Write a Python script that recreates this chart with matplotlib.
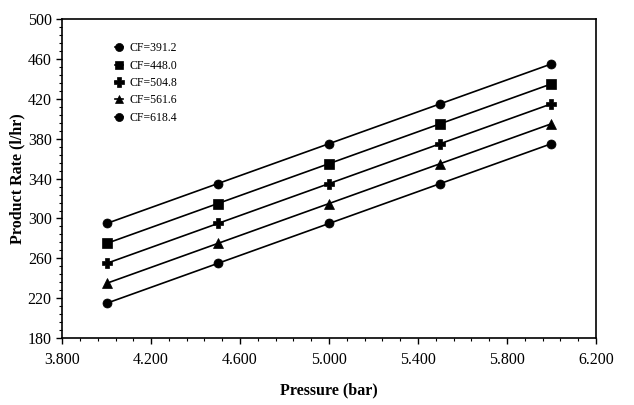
import numpy as np
import matplotlib.pyplot as plt
from matplotlib.ticker import FixedLocator, FormatStrFormatter

# Product rate vs. feed pressure for several CF values
pressure = [4.0, 4.5, 5.0, 5.5, 6.0]
cf_labels = ["CF=391.2", "CF=448.0", "CF=504.8", "CF=561.6", "CF=618.4"]
rate_391 = [295, 335, 375, 415, 455]
rate_448 = [275, 315, 355, 395, 435]
rate_505 = [255, 295, 335, 375, 415]
rate_562 = [235, 275, 315, 355, 395]
rate_618 = [215, 255, 295, 335, 375]
markers = ["o", "s", "P", "^", "o"]

x_ticks = [3.8, 4.2, 4.6, 5.0, 5.4, 5.8, 6.2]
y_ticks = [180, 220, 260, 300, 340, 380, 420, 460, 500]

plt.rcParams['font.family'] = ['Liberation Serif', 'DejaVu Serif']

fig = plt.figure(figsize=(6.34, 4.05), dpi=100)
ax = fig.add_axes([0.098, 0.165, 0.842, 0.788])

series = [rate_391, rate_448, rate_505, rate_562, rate_618]
for vals, lab, m in zip(series, cf_labels, markers):
    ms = 6.5 if m != "P" else 7.5
    ax.plot(pressure, vals, color="black", lw=1.2, marker=m, ms=ms,
            markeredgewidth=0.5, label=lab)

ax.set_xlim(3.8, 6.2)
ax.set_ylim(180, 500)
ax.xaxis.set_major_locator(FixedLocator(x_ticks))
ax.xaxis.set_minor_locator(FixedLocator(np.arange(3.8, 6.21, 0.08)))
ax.yaxis.set_major_locator(FixedLocator(y_ticks))
ax.yaxis.set_minor_locator(FixedLocator(np.arange(180, 501, 8)))
ax.xaxis.set_major_formatter(FormatStrFormatter("%.3f"))
ax.tick_params(which="major", direction="out", length=4, width=1, labelsize=11.5)
ax.tick_params(which="minor", direction="out", length=2, width=0.8)
ax.tick_params(axis="x", pad=6)
for s in ax.spines.values():
    s.set_linewidth(1.2)

ax.set_xlabel("Pressure (bar)", fontsize=11.5, fontweight="bold", labelpad=10)
ax.set_ylabel("Product Rate (l/hr)", fontsize=11.5, fontweight="bold", labelpad=2)

ax.legend(loc="upper left", bbox_to_anchor=(0.08, 0.96), frameon=False,
          fontsize=8.5, handlelength=0.6, handletextpad=0.6, labelspacing=0.45,
          markerscale=0.9)

fig.savefig("out.png", dpi=100)
